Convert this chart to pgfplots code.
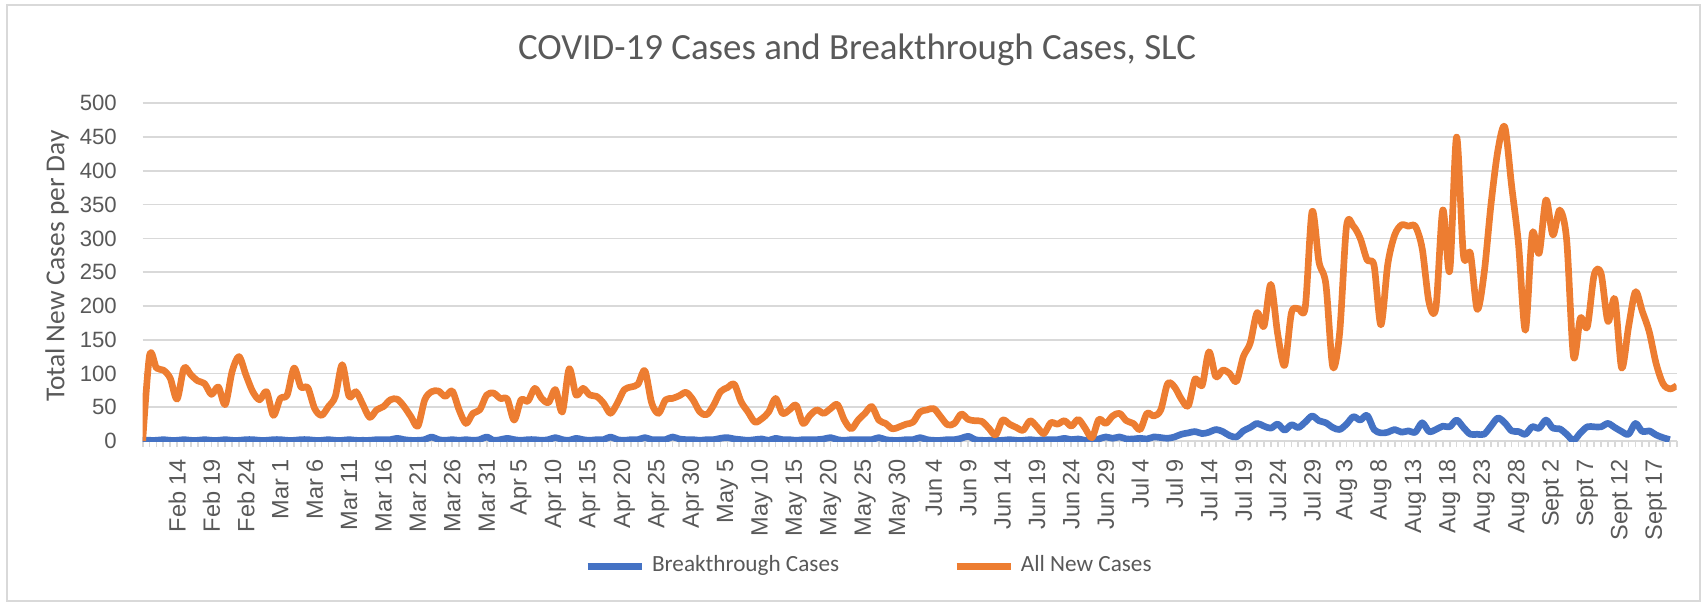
\documentclass[border=0pt]{standalone}
\usepackage{pgfplots}
\pgfplotsset{compat=1.18}
\usepackage{pgfplotstable}
\usepackage{fontspec}
\setmainfont{Carlito}
\newfontfamily\ticksfont{Liberation Sans}
\definecolor{txtgray}{HTML}{595959}
\definecolor{gridgray}{HTML}{D9D9D9}
\definecolor{xlblue}{HTML}{4472C4}
\definecolor{xlorange}{HTML}{ED7D31}

\pgfplotstableread{
d all bt
0 0 1
1 127 1
2 108 1
3 105 2
4 93 1
5 62 1
6 108 2
7 98 1
8 89 1
9 85 2
10 69 1
11 80 1
12 54 2
13 103 1
14 125 1
15 98 2
16 73 2
17 61 1
18 73 1
19 38 2
20 63 2
21 68 1
22 108 1
23 80 2
24 79 2
25 48 1
26 38 1
27 51 2
28 66 1
29 113 1
30 66 2
31 73 1
32 54 1
33 35 1
34 46 2
35 51 2
36 61 2
37 62 4
38 51 2
39 36 1
40 22 1
41 61 2
42 73 6
43 74 2
44 66 1
45 74 2
46 46 1
47 26 2
48 41 1
49 46 2
50 68 6
51 71 1
52 63 2
53 62 4
54 31 2
55 61 1
56 59 2
57 78 2
58 63 1
59 57 2
60 76 5
61 43 2
62 107 1
63 68 4
64 78 2
65 68 1
66 66 2
67 56 2
68 41 6
69 56 2
70 76 1
71 80 2
72 84 2
73 104 5
74 56 2
75 41 2
76 61 2
77 63 6
78 67 3
79 72 2
80 61 2
81 43 1
82 39 2
83 53 2
84 73 4
85 79 5
86 84 3
87 58 2
88 43 1
89 28 2
90 33 3
91 43 1
92 63 4
93 41 2
94 46 2
95 53 1
96 26 2
97 38 2
98 46 2
99 41 3
100 48 5
101 54 2
102 31 1
103 18 2
104 31 2
105 41 2
106 51 2
107 31 5
108 26 2
109 18 1
110 21 1
111 25 2
112 28 2
113 43 5
114 46 2
115 48 1
116 36 1
117 24 2
118 26 2
119 40 4
120 32 7
121 30 2
122 29 1
123 19 1
124 9 1
125 31 1
126 25 2
127 20 1
128 16 1
129 30 2
130 21 1
131 11 2
132 27 2
133 25 2
134 30 4
135 22 2
136 32 3
137 19 1
138 5 0
139 32 3
140 26 6
141 37 4
142 41 6
143 30 3
144 26 3
145 17 4
146 41 3
147 37 6
148 46 5
149 85 4
150 80 6
151 62 10
152 52 12
153 92 14
154 82 11
155 132 13
156 95 17
157 105 14
158 100 8
159 88 6
160 125 15
161 145 20
162 190 26
163 170 22
164 232 19
165 158 25
166 112 16
167 190 24
168 196 20
169 198 28
170 340 37
171 265 30
172 232 27
173 110 20
174 160 17
175 318 25
176 318 36
177 300 31
178 268 38
179 260 17
180 172 12
181 262 13
182 305 17
183 320 13
184 318 15
185 318 13
186 285 27
187 205 14
188 198 17
189 342 22
190 252 21
191 450 31
192 275 20
193 278 10
194 195 10
195 248 10
196 350 22
197 430 34
198 465 27
199 378 15
200 292 14
201 164 10
202 307 21
203 278 19
204 357 31
205 305 19
206 342 18
207 298 10
208 125 1
209 182 12
210 169 21
211 246 21
212 248 21
213 177 26
214 210 20
215 108 14
216 169 10
217 221 26
218 192 14
219 162 15
220 115 9
221 85 5
222 77 2
223 82 nan
}\covid

\begin{document}
\begin{tikzpicture}
\path[use as bounding box] (0,0) rectangle (17.05cm,6.06cm);
\draw[gridgray, line width=0.5pt] (0.07cm,0.05cm) rectangle (17.0cm,6.01cm);
\begin{axis}[
  at={(1.427cm,1.65cm)}, anchor=south west,
  scale only axis, width=15.34cm, height=3.377cm,
  xmin=0, xmax=223, ymin=0, ymax=500,
  axis x line*=bottom, axis y line*=left,
  x axis line style={gridgray, line width=0.6pt},
  y axis line style={draw=none},
  ytick={0,50,...,500},
  ymajorgrids, grid style={gridgray, line width=0.5pt},
  ytick style={draw=none},
  xtick={5,10,...,220},
  xticklabels={Feb 14, Feb 19, Feb 24, Mar 1, Mar 6, Mar 11, Mar 16, Mar 21, Mar 26, Mar 31, Apr 5, Apr 10, Apr 15, Apr 20, Apr 25, Apr 30, May 5, May 10, May 15, May 20, May 25, May 30, Jun 4, Jun 9, Jun 14, Jun 19, Jun 24, Jun 29, Jul 4, Jul 9, Jul 14, Jul 19, Jul 24, Jul 29, Aug 3, Aug 8, Aug 13, Aug 18, Aug 23, Aug 28, Sept 2, Sept 7, Sept 12, Sept 17},
  minor xtick={0,...,223},
  tick align=outside,
  x tick style={gridgray, line width=0.5pt},
  major tick length=0.055cm, minor tick length=0.055cm,
  xticklabel style={rotate=90, anchor=east, font=\ticksfont\fontsize{6.7}{8}\selectfont, text=txtgray},
  yticklabel style={font=\ticksfont\fontsize{6.3}{8}\selectfont, text=txtgray, xshift=-0.08cm},
  /pgf/number format/assume math mode=true,
  every axis title shift=0pt,
  title={COVID-19 Cases and Breakthrough Cases, SLC},
  title style={at={(axis description cs:0.4657,1.1578)}, anchor=center, font=\fontsize{10.5}{12}\selectfont, text=txtgray},
  ylabel={Total New Cases per Day},
  ylabel style={at={(axis description cs:-0.0559,0.518)}, anchor=center, font=\fontsize{7.8}{9}\selectfont, text=txtgray},
  legend style={at={(0.4751,-0.3716)}, anchor=center, draw=none, fill=none, legend columns=2, font=\fontsize{6.6}{8}\selectfont, text=txtgray, /tikz/every even column/.append style={column sep=1.07cm}},
  legend cell align=left,
  legend image code/.code={\draw[#1, line width=1.9pt] (0cm,0cm) -- (0.54cm,0cm);},
]
\addplot[xlblue, line width=1.9pt, line join=round, smooth] table[x=d, y=bt] {\covid};
\addlegendentry{Breakthrough Cases}
\addplot[xlorange, line width=1.9pt, line join=round, smooth] table[x=d, y=all] {\covid};
\addlegendentry{All New Cases}
\end{axis}
\end{tikzpicture}
\end{document}
